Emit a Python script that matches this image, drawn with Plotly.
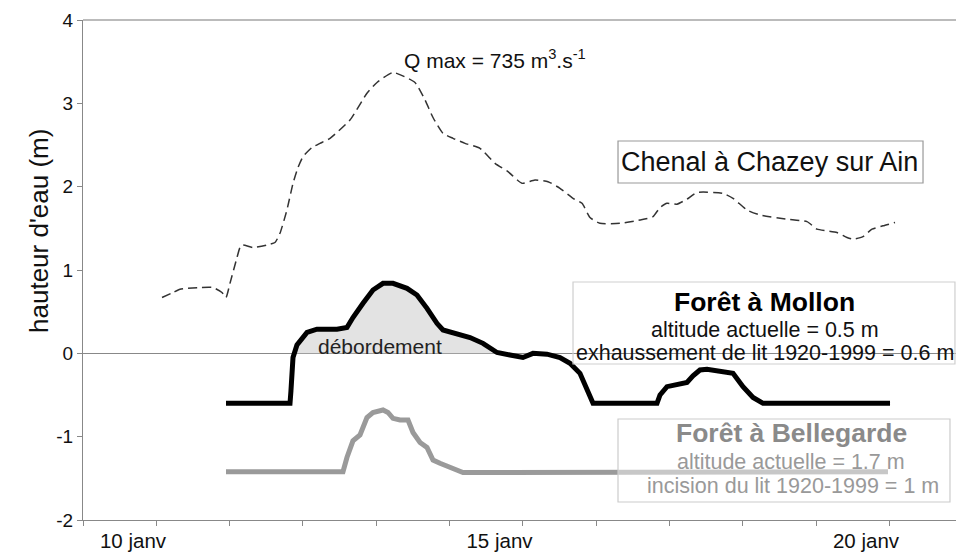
import numpy as np
import plotly.graph_objects as go

FONT = "Arial, Liberation Sans, sans-serif"

# Time axis: days of January (decimal)
chazey_t = [10.396, 10.546, 10.641, 10.914, 11.091, 11.214, 11.269, 11.323, 11.419, 11.46,
            11.50, 11.637, 11.828, 11.937, 12.005, 12.10, 12.183, 12.251, 12.319, 12.442,
            12.551, 12.688, 12.96, 13.192, 13.329, 13.547, 13.847, 13.984, 14.093, 14.229,
            14.366, 14.53, 14.734, 14.939, 15.116, 15.307, 15.484, 15.662, 15.825, 16.003,
            16.126, 16.235, 16.371, 16.644, 16.917, 17.094, 17.19, 17.285, 17.422, 17.558,
            17.694, 18.049, 18.186, 18.377, 18.554, 18.922, 19.195, 19.332, 19.468, 19.604,
            19.741, 19.823, 19.959, 20.082, 20.232, 20.396]
chazey_h = [0.67, 0.73, 0.77, 0.79, 0.79, 0.73, 0.67, 0.84, 1.15, 1.27,
            1.30, 1.27, 1.30, 1.33, 1.44, 1.72, 2.04, 2.23, 2.36, 2.47,
            2.52, 2.58, 2.80, 3.12, 3.25, 3.37, 3.25, 3.04, 2.83, 2.64,
            2.58, 2.52, 2.46, 2.28, 2.18, 2.04, 2.08, 2.06, 1.98, 1.86,
            1.80, 1.63, 1.56, 1.56, 1.60, 1.64, 1.75, 1.80, 1.79, 1.85,
            1.93, 1.92, 1.86, 1.72, 1.66, 1.61, 1.58, 1.49, 1.47, 1.45,
            1.39, 1.37, 1.40, 1.49, 1.53, 1.57]

mollon_t = [11.269, 12.142, 12.155, 12.183, 12.237, 12.374, 12.51, 12.783, 12.919, 13.001,
            13.138, 13.274, 13.411, 13.547, 13.738, 13.874, 14.011, 14.147, 14.229, 14.42,
            14.598, 14.775, 14.966, 15.143, 15.32, 15.457, 15.648, 15.825, 15.962, 16.098,
            16.194, 16.276, 17.149, 17.19, 17.285, 17.422, 17.558, 17.64, 17.735, 17.831,
            18.104, 18.186, 18.322, 18.459, 18.595, 20.328]
mollon_h = [-0.60, -0.60, -0.45, -0.05, 0.10, 0.25, 0.29, 0.29, 0.31, 0.43,
            0.60, 0.76, 0.84, 0.84, 0.78, 0.70, 0.54, 0.36, 0.28, 0.24,
            0.19, 0.12, 0.01, -0.02, -0.05, 0.0, -0.01, -0.05, -0.12, -0.24,
            -0.44, -0.60, -0.60, -0.50, -0.40, -0.38, -0.35, -0.27, -0.20, -0.19,
            -0.22, -0.24, -0.40, -0.53, -0.60, -0.60]

bellegarde_t = [11.269, 12.865, 12.919, 13.001, 13.097, 13.192, 13.274, 13.411, 13.479, 13.547,
                13.643, 13.752, 13.82, 13.916, 14.011, 14.093, 14.188, 14.325, 14.434, 14.502,
                20.30]
bellegarde_h = [-1.42, -1.42, -1.25, -1.05, -0.98, -0.77, -0.71, -0.68, -0.71, -0.78,
                -0.80, -0.80, -0.95, -1.07, -1.13, -1.28, -1.32, -1.37, -1.40, -1.43,
                -1.42]

# Axis: one tick per day, date labels every 5 days
tick_start = 9.318
day_ticks = [tick_start + k for k in range(12)]
label_ticks = [tick_start, tick_start + 5, tick_start + 10]
label_text = ["10 janv", "15 janv", "20 janv"]
x_range = [9.318, 21.228]
y_ticks = [-2, -1, 0, 1, 2, 3, 4]
y_tick_text = ["-2", "-1", "0", "1", "2", "3", "4"]

fig = go.Figure()

# Overflow area: Mollon level above 0
overflow = np.clip(np.array(mollon_h), 0, None)
fig.add_trace(go.Scatter(x=mollon_t, y=overflow, mode="lines", line=dict(width=0),
                         fill="tozeroy", fillcolor="#e3e3e3", hoverinfo="skip"))

fig.add_trace(go.Scatter(x=chazey_t, y=chazey_h, mode="lines", name="Chazey",
                         line=dict(color="#333333", width=1.5, dash="9px,5px", shape="spline",
                                   smoothing=0.5)))
fig.add_trace(go.Scatter(x=bellegarde_t, y=bellegarde_h, mode="lines", name="Bellegarde",
                         line=dict(color="#9a9a9a", width=5)))
fig.add_trace(go.Scatter(x=mollon_t, y=mollon_h, mode="lines", name="Mollon",
                         line=dict(color="#000000", width=5)))

annotations = [
    dict(xref="paper", yref="paper", x=-0.0699, y=0.578, textangle=-90,
         text="hauteur d'eau (m)", showarrow=False, font=dict(size=26, color="#111")),
    dict(x=13.67, y=3.53, text="Q max = 735 m<sup>3</sup>.s<sup>-1</sup>", showarrow=False,
         xanchor="left", font=dict(size=21, color="#111")),
    dict(x=13.37, y=0.088, text="débordement", showarrow=False, font=dict(size=21, color="#222")),
    dict(x=18.69, y=2.30, text="Chenal à Chazey sur Ain", showarrow=False,
         font=dict(size=27, color="#111")),
    dict(x=18.62, y=0.616, text="<b>Forêt à Mollon</b>", showarrow=False,
         font=dict(size=26.5, color="#000")),
    dict(x=18.62, y=0.28, text="altitude actuelle = 0.5 m", showarrow=False,
         font=dict(size=21.5, color="#111")),
    dict(x=18.62, y=0.0, text="exhaussement de lit 1920-1999 = 0.6 m", showarrow=False,
         font=dict(size=21.5, color="#111")),
    dict(x=18.99, y=-0.956, text="<b>Forêt à Bellegarde</b>", showarrow=False,
         font=dict(size=26.5, color="#8a8a8a")),
    dict(x=18.98, y=-1.304, text="altitude actuelle = 1.7 m", showarrow=False,
         font=dict(size=21.5, color="#999999")),
    dict(x=19.0, y=-1.592, text="incision du lit 1920-1999 = 1 m", showarrow=False,
         font=dict(size=21.5, color="#999999")),
]

shapes = [
    # top frame line
    dict(type="line", xref="paper", yref="paper", x0=0, x1=1, y0=1, y1=1,
         line=dict(color="#bbbbbb", width=2)),
    # text boxes
    dict(type="rect", x0=16.617, x1=20.778, y0=2.044, y1=2.548,
         line=dict(color="#999999", width=1.2), fillcolor="white"),
    dict(type="rect", x0=16.003, x1=21.214, y0=-0.128, y1=0.856,
         line=dict(color="#cfcfcf", width=1.2), fillcolor="rgba(255,255,255,0)"),
    dict(type="rect", x0=16.617, x1=21.146, y0=-1.784, y1=-0.788, layer="above",
         line=dict(color="#cccccc", width=1.2), fillcolor="rgba(255,255,255,0.45)"),
]

fig.update_layout(
    width=956, height=557,
    margin=dict(l=83, r=0, t=20, b=37),
    paper_bgcolor="white", plot_bgcolor="white",
    showlegend=False,
    font=dict(family=FONT, color="#111"),
    annotations=annotations,
    shapes=shapes,
)
fig.update_xaxes(range=x_range, tickmode="array", tickvals=label_ticks, ticktext=label_text,
                 ticks="outside", ticklen=5, tickcolor="#888", tickwidth=1,
                 minor=dict(tickmode="array", tickvals=day_ticks, ticks="outside",
                            ticklen=5, tickcolor="#888", tickwidth=1, showgrid=False),
                 ticklabelshift=50, ticklabelstandoff=-3,
                 showgrid=False, zeroline=False,
                 showline=True, linecolor="#888", linewidth=1.3,
                 tickfont=dict(size=20.5, color="#111"))
fig.update_yaxes(range=[-2, 4], tickmode="array", tickvals=y_ticks, ticktext=y_tick_text,
                 ticks="outside", ticklen=5, tickcolor="#888", tickwidth=1,
                 showgrid=False, zeroline=True, zerolinecolor="#888", zerolinewidth=1,
                 showline=True, linecolor="#888", linewidth=1.3,
                 tickfont=dict(size=19, color="#111"))

fig.write_html("out.html")
